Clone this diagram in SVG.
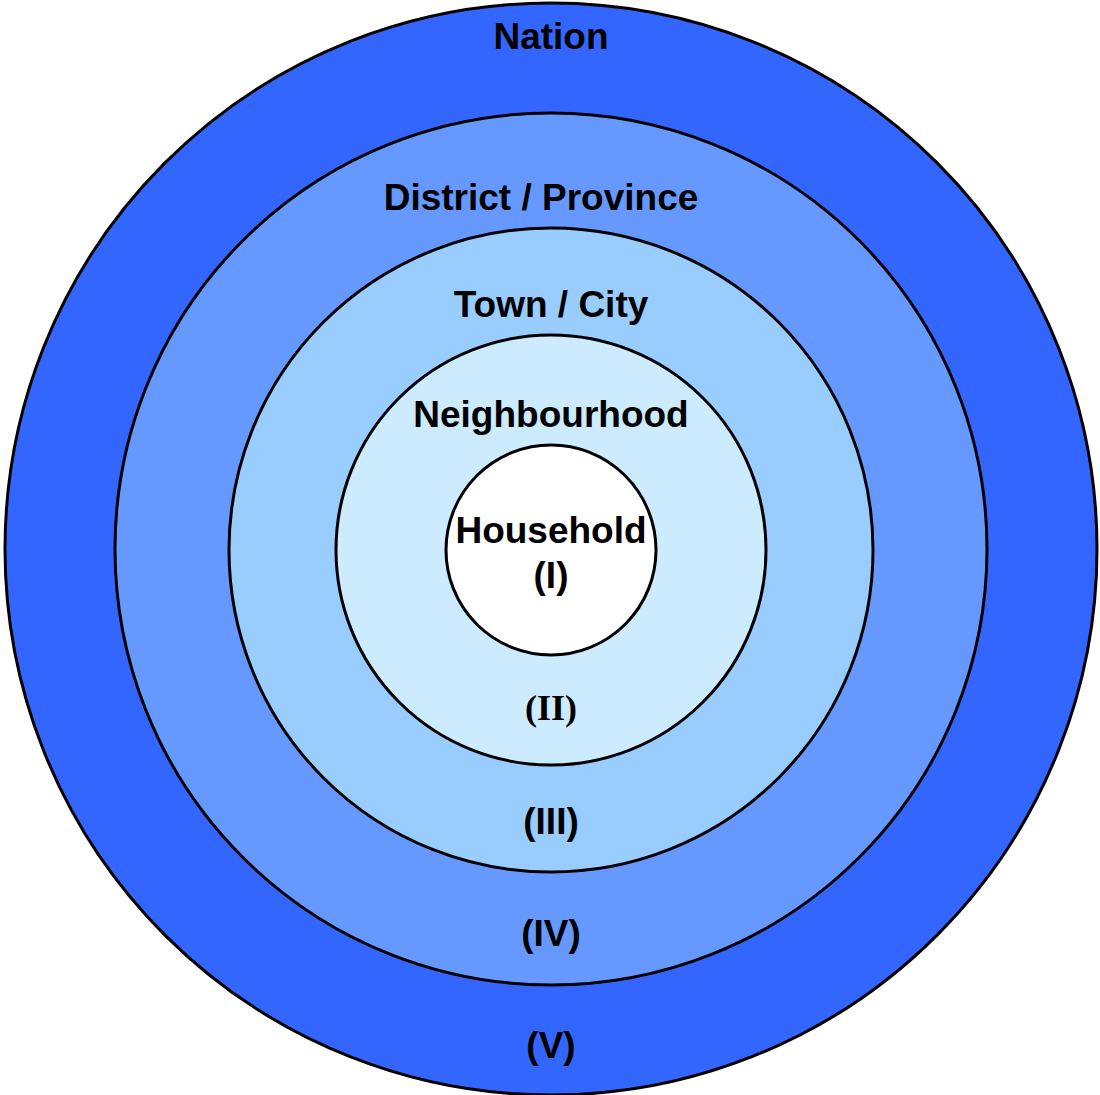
<svg xmlns="http://www.w3.org/2000/svg" width="1100" height="1095" viewBox="0 0 1100 1095">
<style>
.ring{stroke:#000;stroke-width:3}
.t{font-family:"Liberation Sans",Arial,sans-serif;font-weight:bold;font-size:37px;text-anchor:middle;fill:#000}
.s{font-family:"Liberation Serif","Times New Roman",serif;font-weight:bold;font-size:36px;text-anchor:middle;fill:#000}
</style>
<rect width="1100" height="1095" fill="#fff"/>
<g id="nation"><circle class="ring" cx="551" cy="549" r="546" fill="#3366FF"/><text class="t" x="551" y="49">Nation</text><text class="t" x="551" y="1058">(V)</text></g>
<g id="district"><circle class="ring" cx="551" cy="549" r="436" fill="#6699FF"/><text class="t" x="541" y="210">District / Province</text><text class="t" x="551" y="946">(IV)</text></g>
<g id="town"><circle class="ring" cx="551" cy="550" r="322" fill="#99CCFF"/><text class="t" x="551" y="317">Town / City</text><text class="t" x="551" y="834">(III)</text></g>
<g id="neighbourhood"><circle class="ring" cx="551" cy="550" r="215" fill="#CCEBFF"/><text class="t" x="551" y="427">Neighbourhood</text><text class="s" x="551" y="720">(II)</text></g>
<g id="household"><circle class="ring" cx="551" cy="550" r="105" fill="#fff"/><text class="t" x="551" y="543">Household</text><text class="t" x="551" y="588">(I)</text></g>
<g id="connectors"/>
</svg>
